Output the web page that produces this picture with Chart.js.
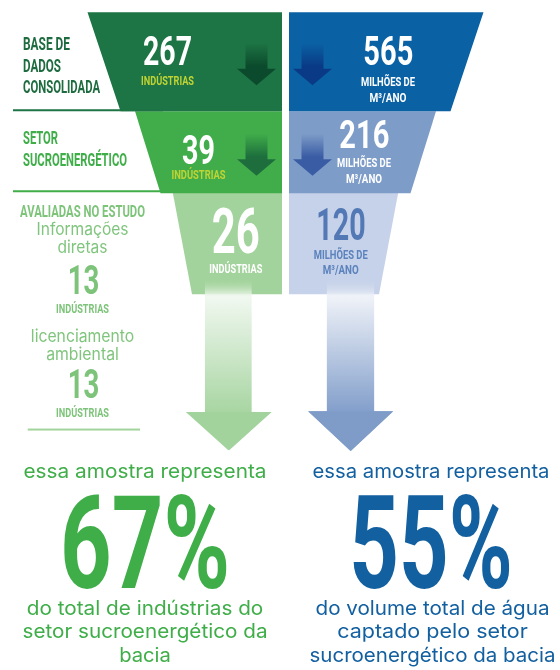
<!DOCTYPE html>
<html lang="pt-BR">
<head>
<meta charset="utf-8">
<title>Funil: indústrias e captação de água</title>
<script src="https://cdn.jsdelivr.net/npm/chart.js@4.4.1/dist/chart.umd.min.js"></script>
<style>
  html, body { margin: 0; padding: 0; background: #fff; }
  #wrap { width: 560px; height: 670px; }
</style>
</head>
<body>
<div id="wrap"><canvas id="funnel" width="560" height="670"></canvas></div>
<script>
// funnel data
const tiers = ['Base de dados consolidada', 'Setor sucroenergético', 'Avaliadas no estudo'];
const tierLabelLines = [['BASE DE', 'DADOS', 'CONSOLIDADA'], ['SETOR', 'SUCROENERGÉTICO'], ['AVALIADAS NO ESTUDO']];
const industries = [267, 39, 26];
const waterVolume = [565, 216, 120]; // milhões de m³/ano
const industriesUnit = 'INDÚSTRIAS';
const waterUnit = ['MILHÕES DE', 'M³/ANO'];
const sampleSources = [['Informações', 'diretas'], ['licenciamento', 'ambiental']];
const sampleCounts = [13, 13];
const sharePct = [67, 55];
const shareLead = 'essa amostra representa';
const shareText = [
  ['do total de indústrias do', 'setor sucroenergético da', 'bacia'],
  ['do volume total de água', 'captado pelo setor', 'sucroenergético da bacia']
];

// layout (px-like units around the centre divider)
const gap = 3.5;
const halfTop = [198, 150.5, 113];
const halfBottom = [165, 125, 93.5];
const tierThickness = [99, 82, 103];
const greenFill = ['#1d7444', '#40ad4a', '#a3d39c'];
const blueFill = ['#0a61a4', '#7e9cc8', '#c6d2e9'];

function condensed(ctx, text, x, base, cap, width, color, align) {
  ctx.font = '700 ' + (cap / 0.711).toFixed(2) + 'px Roboto';
  const w = ctx.measureText(text).width;
  ctx.save();
  ctx.translate(x, base);
  ctx.scale(width / w, 1);
  ctx.textAlign = align || 'center';
  ctx.textBaseline = 'alphabetic';
  ctx.fillStyle = color;
  ctx.fillText(text, 0, 0);
  ctx.restore();
}

function plain(ctx, text, x, base, size, width, color) {
  ctx.font = '400 ' + size + 'px Inter';
  const w = ctx.measureText(text).width;
  ctx.save();
  ctx.translate(x, base);
  ctx.scale(width / w, 1);
  ctx.textAlign = 'center';
  ctx.textBaseline = 'alphabetic';
  ctx.fillStyle = color;
  ctx.fillText(text, 0, 0);
  ctx.restore();
}

function arrow(ctx, cx, top, headTop, tip, shaftW, headW, fill) {
  ctx.beginPath();
  ctx.moveTo(cx - shaftW / 2, top);
  ctx.lineTo(cx + shaftW / 2, top);
  ctx.lineTo(cx + shaftW / 2, headTop);
  ctx.lineTo(cx + headW / 2, headTop);
  ctx.lineTo(cx, tip);
  ctx.lineTo(cx - headW / 2, headTop);
  ctx.lineTo(cx - shaftW / 2, headTop);
  ctx.closePath();
  ctx.fillStyle = fill;
  ctx.fill();
}

function vgrad(ctx, y0, y1, stops) {
  const g = ctx.createLinearGradient(0, y0, 0, y1);
  stops.forEach(s => g.addColorStop(s[0], s[1]));
  return g;
}

// one dataset per tier and side, so each tier gets its own height
const funnelSets = [];
tiers.forEach((t, i) => {
  funnelSets.push({ label: 'Indústrias', side: 0, tier: i,
    data: tiers.map((_, j) => j === i ? [-halfTop[i], -gap] : null),
    backgroundColor: greenFill[i], barThickness: tierThickness[i], grouped: false });
  funnelSets.push({ label: 'Milhões de m³/ano', side: 1, tier: i,
    data: tiers.map((_, j) => j === i ? [gap, halfTop[i]] : null),
    backgroundColor: blueFill[i], barThickness: tierThickness[i], grouped: false });
});

function tierBar(chart, side, i) {
  const idx = chart.data.datasets.findIndex(d => d.side === side && d.tier === i);
  return chart.getDatasetMeta(idx).data[i].getProps(['x', 'y', 'base', 'height'], true);
}

const funnelPlugin = {
  id: 'funnel',
  beforeDatasetDraw(chart, args) {
    const ctx = chart.ctx;
    const xs = chart.scales.x;
    const ds = chart.data.datasets[args.index];
    const left = ds.side === 0;
    const i = ds.tier;
    const p = args.meta.data[i].getProps(['x', 'y', 'base', 'height'], true);
    const top = p.y - p.height / 2, bottom = p.y + p.height / 2;
    const inner = left ? Math.max(p.x, p.base) : Math.min(p.x, p.base);
    const outerTop = left ? Math.min(p.x, p.base) : Math.max(p.x, p.base);
    const outerBottom = xs.getPixelForValue((left ? -1 : 1) * halfBottom[i]);
    ctx.beginPath();
    ctx.moveTo(inner, top);
    ctx.lineTo(outerTop, top);
    ctx.lineTo(outerBottom, bottom);
    ctx.lineTo(inner, bottom);
    ctx.closePath();
    ctx.fillStyle = ds.backgroundColor;
    ctx.fill();
    return false;
  },
  afterDatasetsDraw(chart) {
    const ctx = chart.ctx;
    const xs = chart.scales.x;
    const X = v => xs.getPixelForValue(v);
    const g = tiers.map((t, i) => tierBar(chart, 0, i));
    const cy = g.map(p => p.y);
    const bottoms = g.map(p => p.y + p.height / 2);

    // label underlines
    ctx.fillStyle = greenFill[0];
    ctx.fillRect(13, bottoms[0] - 2, 150, 2);
    ctx.fillStyle = greenFill[1];
    ctx.fillRect(13, bottoms[1] - 3, X(-halfTop[2]) - 13, 2);

    // small arrows inside first two tiers
    const smallGreen = [['#1d7444', '#0b4a2c'], ['#40ad4a', '#1d6e3c']];
    const smallBlue = [['#0a61a4', '#0a3a85'], ['#7e9cc8', '#3a5ca4']];
    for (let i = 0; i < 2; i++) {
      const t = cy[i] - 18.5, b = cy[i] + 23.5;
      arrow(ctx, X(-29), t, cy[i] + 7, b, 22, 39, vgrad(ctx, t, b, [[0, smallGreen[i][0]], [0.55, smallGreen[i][1]], [1, smallGreen[i][1]]]));
      arrow(ctx, X(27), t, cy[i] + 7, b, 22, 39, vgrad(ctx, t, b, [[0, smallBlue[i][0]], [0.55, smallBlue[i][1]], [1, smallBlue[i][1]]]));
    }

    // big arrows below the funnel
    const b3 = bottoms[2];
    arrow(ctx, X(-57.2), b3 - 16, b3 + 117.7, b3 + 156, 46.7, 85, vgrad(ctx, b3 - 16, b3 + 118, [
      [0, 'rgba(163,211,156,0)'], [0.1, 'rgba(225,241,222,0.7)'], [0.14, '#f1f8f0'], [1, '#a8d5a2']]));
    arrow(ctx, X(65), b3 - 16, b3 + 117, b3 + 156.7, 47.3, 85, vgrad(ctx, b3 - 16, b3 + 117, [
      [0, 'rgba(198,210,233,0)'], [0.1, 'rgba(226,232,243,0.7)'], [0.14, '#eff2f8'], [1, '#839fcb']]));
    ctx.fillStyle = '#a3d39c';
    ctx.beginPath();
    ctx.moveTo(X(-98.8), b3 + 117.7); ctx.lineTo(X(-13.8), b3 + 117.7); ctx.lineTo(X(-56.3), b3 + 156); ctx.closePath(); ctx.fill();
    ctx.fillStyle = '#7f9cc8';
    ctx.beginPath();
    ctx.moveTo(X(22.8), b3 + 117); ctx.lineTo(X(107.8), b3 + 117); ctx.lineTo(X(65.3), b3 + 156.7); ctx.closePath(); ctx.fill();

    // tier labels on the left
    const lblColor = ['#1d6b3e', '#3fae49'];
    const lblDy = [[-11.5, 10, 31.2], [-7.8, 13.7]];
    const lblW = [[47, 38, 77], [35, 104]];
    for (let i = 0; i < 2; i++) {
      tierLabelLines[i].forEach((line, k) => {
        condensed(ctx, line, 23, cy[i] + lblDy[i][k], 12.5, lblW[i][k], lblColor[i], 'left');
      });
    }

    // green tier values
    const gNum = [{ x: -118, dy: 3.5, cap: 28.3, w: 49 }, { x: -87, dy: 11.5, cap: 29, w: 33 }, { x: -49.7, dy: 10.5, cap: 45, w: 48 }];
    const gUnit = [{ dy: 23, w: 53, c: '#bfd335' }, { dy: 27, w: 54, c: '#bfd335' }, { dy: 30.2, w: 53, c: '#ffffff' }];
    industries.forEach((v, i) => {
      condensed(ctx, String(v), X(gNum[i].x), cy[i] + gNum[i].dy, gNum[i].cap, gNum[i].w, '#ffffff');
      condensed(ctx, industriesUnit, X(gNum[i].x), cy[i] + gUnit[i].dy, 8.7, gUnit[i].w, gUnit[i].c);
    });

    // blue tier values
    const bNum = [{ x: 102.8, dy: 3.5, cap: 28.3, w: 50 }, { x: 78.8, dy: -3.8, cap: 27.4, w: 50 }, { x: 55.5, dy: -3.2, cap: 31, w: 49.3 }];
    const bUnitDy = [[24.5, 40.2], [15.2, 31.2], [15.8, 30.8]];
    const bUnitW = [[54, 37], [54, 36], [54, 36]];
    const bNumColor = ['#ffffff', '#ffffff', '#5279b5'];
    const bUnitColor = ['#ffffff', '#ffffff', '#5b82bd'];
    waterVolume.forEach((v, i) => {
      condensed(ctx, String(v), X(bNum[i].x), cy[i] + bNum[i].dy, bNum[i].cap, bNum[i].w, bNumColor[i]);
      waterUnit.forEach((u, k) => {
        condensed(ctx, u, X(bNum[i].x - 0.3), cy[i] + bUnitDy[i][k], 8.7, bUnitW[i][k], bUnitColor[i]);
      });
    });

    // sample breakdown (left column)
    const colC = 82.5, light = '#7dc47a';
    condensed(ctx, tierLabelLines[2][0], 20, b3 - 77.3, 11.7, 125, light, 'left');
    const srcDy = [[-59, -41.3], [47.7, 65.3]];
    const srcW = [[92, 50], [103.3, 72.7]];
    const cntDy = [0, 103.3];
    sampleSources.forEach((lines, s) => {
      lines.forEach((line, k) => plain(ctx, line, colC, b3 + srcDy[s][k], 17, srcW[s][k], '#80c57d'));
      condensed(ctx, String(sampleCounts[s]), colC + 1, b3 + cntDy[s], 28.5, 31.6, light);
      condensed(ctx, industriesUnit, colC, b3 + cntDy[s] + 19, 8.7, 53, light);
    });
    ctx.fillStyle = '#a3d39c';
    ctx.fillRect(27.7, b3 + 134.3, 112.3, 2);

    // share summary under the arrows
    const shareX = [145, 431];
    const shareColor = ['#3fae49', '#1360a0'];
    const leadW = [243, 237];
    const pctW = [170, 163.4];
    const lineW = [[236.6, 245, 51.7], [234, 190.7, 246]];
    const lineY = [615, 638, 661.5];
    sharePct.forEach((pct, s) => {
      plain(ctx, shareLead, shareX[s], 477.5, 20, leadW[s], shareColor[s]);
      condensed(ctx, pct + '%', shareX[s], 588.3, 91.7, pctW[s], shareColor[s]);
      shareText[s].forEach((line, k) => plain(ctx, line, shareX[s] + (s ? 1.5 : 0), lineY[k], 20, lineW[s][k], shareColor[s]));
    });
  }
};

new Chart(document.getElementById('funnel'), {
  type: 'bar',
  data: { labels: tiers, datasets: funnelSets },
  options: {
    indexAxis: 'y',
    responsive: false,
    animation: false,
    events: [],
    layout: { padding: { top: 16.5, bottom: 382, left: 0, right: 0 } },
    scales: {
      x: { type: 'linear', display: false, min: -285.5, max: 274.5 },
      y: { display: false }
    },
    plugins: { legend: { display: false }, tooltip: { enabled: false } }
  },
  plugins: [funnelPlugin]
});
</script>
</body>
</html>
